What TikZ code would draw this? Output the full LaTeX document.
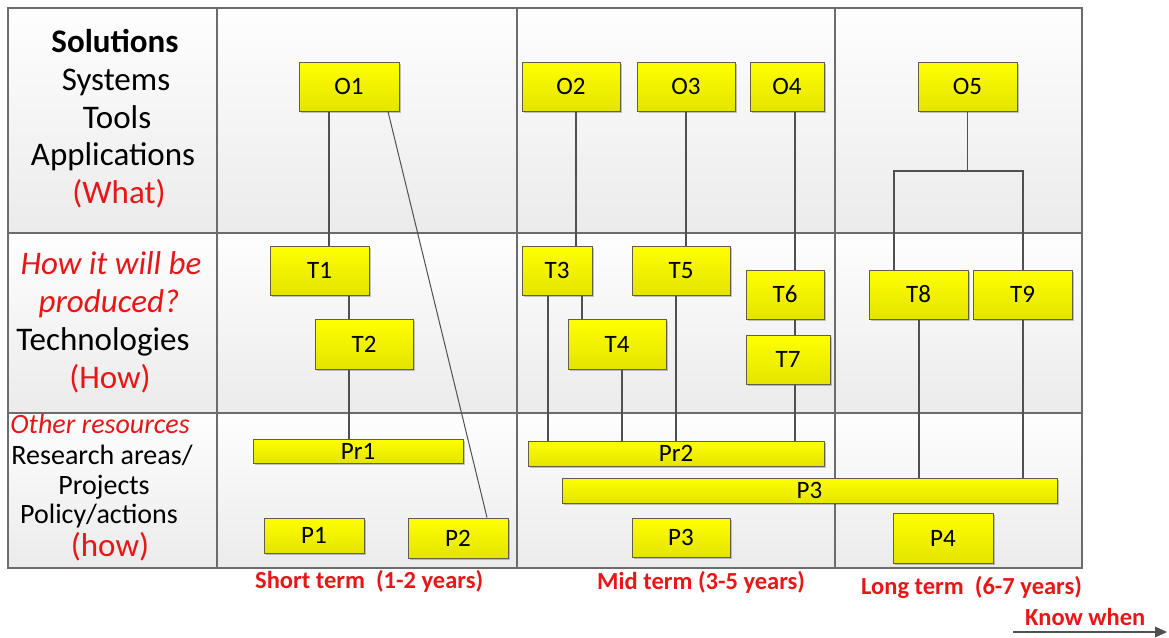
\documentclass[tikz,border=0pt]{standalone}
\usepackage{fontspec}
\setmainfont{Carlito}
\usetikzlibrary{shadows}

\definecolor{gridline}{RGB}{108,108,108}
\definecolor{boxedge}{RGB}{96,96,72}
\definecolor{boxtop}{RGB}{255,255,0}
\definecolor{boxbot}{RGB}{228,228,0}
\definecolor{celltop}{RGB}{254,254,254}
\definecolor{cellbot}{RGB}{235,235,235}
\definecolor{labelred}{RGB}{232,22,22}
\definecolor{linkcol}{RGB}{80,80,80}

% yellow box given by its corners: name, x1, y1, x2, y2, text
\newcommand{\ybx}[6]{%
  \node[ybox, minimum width={#4pt-#2pt}, minimum height={#5pt-#3pt}]
    (#1) at ({(#2+#4)/2},{(#3+#5)/2}) {#6};}
% shaded table cell: x1, y1, x2, y2
\newcommand{\tcell}[4]{%
  \shade[top color=celltop, bottom color=cellbot] (#1,#2) rectangle (#3,#4);}

\begin{document}
\begin{tikzpicture}[x=1pt,y=-1pt,
  ybox/.style={draw=boxedge, line width=1pt, top color=boxtop,
    bottom color=boxbot, inner sep=0pt,
    font=\fontsize{25}{27}\selectfont,
    drop shadow={shadow xshift=2pt, shadow yshift=-2pt,
      fill=black, opacity=0.22}},
  link/.style={draw=linkcol, line width=1.3pt},
  grid/.style={draw=gridline, line width=1.2pt},
  bigtxt/.style={anchor=base, inner sep=0pt, font=\fontsize{33}{36}\selectfont},
  midtxt/.style={anchor=base, inner sep=0pt, font=\fontsize{28}{30}\selectfont},
  termtxt/.style={anchor=base west, inner sep=0pt, text=labelred,
    font=\fontsize{24.5}{26}\selectfont\bfseries}]

\useasboundingbox (0,0) rectangle (1169,637);

% table cells
\foreach \xa/\xb in {8/217,217/517,517/835,835/1082}{
  \tcell{\xa}{8}{\xb}{233}
  \tcell{\xa}{233}{\xb}{413}
  \tcell{\xa}{413}{\xb}{568}
}
% table rules
\draw[grid] (8,8) rectangle (1082,568);
\foreach \xx in {217,517,835} \draw[grid] (\xx,8) -- (\xx,568);
\foreach \yy in {233,413} \draw[grid] (8,\yy) -- (1082,\yy);

% row headings
\node[bigtxt] (h1) at (115,52) {\bfseries Solutions};
\node[bigtxt] (h2) at (116,90) {Systems};
\node[bigtxt] (h3) at (117,128) {Tools};
\node[bigtxt] (h4) at (113,165) {Applications};
\node[bigtxt, text=labelred] (h5) at (119,203) {(What)};

\node[bigtxt, text=labelred] (h6) at (111,274) {\itshape How it will be};
\node[bigtxt, text=labelred] (h7) at (109,312) {\itshape produced?};
\node[bigtxt] (h8) at (103,350) {Technologies};
\node[bigtxt, text=labelred] (h9) at (110,388) {(How)};

\node[midtxt, text=labelred] (h10) at (100,433) {\itshape Other resources};
\node[midtxt] (h11) at (102,464) {Research areas/};
\node[midtxt] (h12) at (104,494) {Projects};
\node[midtxt] (h13) at (99,523) {Policy/actions};
\node[bigtxt, text=labelred] (h14) at (110,556) {(how)};

% boxes
\ybx{O1}{299}{62}{399}{111}{O1}
\ybx{O2}{522}{62}{620}{111}{O2}
\ybx{O3}{637}{62}{735}{111}{O3}
\ybx{O4}{750}{62}{824}{111}{O4}
\ybx{O5}{918}{62}{1017}{111}{O5}
\ybx{T1}{270}{246}{369}{295}{T1}
\ybx{T2}{315}{319}{413}{369}{T2}
\ybx{T3}{522}{246}{592}{295}{T3}
\ybx{T4}{568}{319}{666}{369}{T4}
\ybx{T5}{632}{246}{730}{295}{T5}
\ybx{T6}{746}{270}{824}{319}{T6}
\ybx{T7}{746}{335}{830}{384}{T7}
\ybx{T8}{869}{270}{968}{319}{T8}
\ybx{T9}{973}{270}{1072}{319}{T9}
\ybx{P3bar}{562}{478}{1057}{503}{P3}
\ybx{Pr1}{253}{439}{463}{463}{Pr1}
\ybx{Pr2}{528}{441}{824}{466}{Pr2}
\ybx{P1}{264}{518}{364}{553}{P1}
\ybx{P2}{408}{518}{508}{558}{P2}
\ybx{P3}{632}{518}{730}{557}{P3}
\ybx{P4}{893}{513}{993}{563}{P4}

% x positions of the vertical links
\coordinate (xa) at (329,0);
\coordinate (xb) at (349,0);
\coordinate (xc) at (576,0);
\coordinate (xd) at (686,0);
\coordinate (xe) at (795,0);
\coordinate (xf) at (582,0);
\coordinate (xg) at (548,0);
\coordinate (xh) at (622,0);
\coordinate (xi) at (676,0);
\coordinate (xj) at (894,0);
\coordinate (xk) at (1023,0);
\coordinate (xl) at (919,0);
\coordinate (forky) at (0,171);

% links
\draw[link] (O1.south -| xa) -- (T1.north -| xa);
\draw[link, line width=1pt] ([xshift=39pt]O1.south) -- ([xshift=29pt]P2.north);
\draw[link] (T1.south -| xb) -- (T2.north -| xb);
\draw[link] (T2.south -| xb) -- (Pr1.north -| xb);
\draw[link] (O2.south -| xc) -- (T3.north -| xc);
\draw[link] (O3.south -| xd) -- (T5.north -| xd);
\draw[link] (O4.south -| xe) -- (T6.north -| xe);
\draw[link] (T6.south -| xe) -- (T7.north -| xe);
\draw[link] (T7.south -| xe) -- (Pr2.north -| xe);
\draw[link] (T3.south -| xf) -- (T4.north -| xf);
\draw[link] (T3.south -| xg) -- (Pr2.north -| xg);
\draw[link] (T4.south -| xh) -- (Pr2.north -| xh);
\draw[link] (T5.south -| xi) -- (Pr2.north -| xi);
\draw[link] (O5.south) -- (O5.south |- forky);
\draw[link] (T8.north -| xj) -- (forky -| xj) -- (forky -| xk) -- (T9.north -| xk);
\draw[link] (T8.south -| xl) -- (P3bar.north -| xl);
\draw[link] (T9.south -| xk) -- (P3bar.north -| xk);

% time axis labels
\node[termtxt] (st) at (255,588) {Short term\ \ (1-2 years)};
\node[termtxt] (mt) at (597,589) {Mid term (3-5 years)};
\node[termtxt] (lt) at (861,594) {Long term\ \ (6-7 years)};
\node[termtxt, font=\fontsize{24.5}{26}\selectfont\bfseries] (kw) at (1025,625) {Know when};

% time arrow
\coordinate (axA) at (1013,632);
\coordinate (axB) at (1155,632);
\coordinate (axTip) at (1167,632);
\draw[draw=linkcol, line width=1.8pt] (axA) -- (axB);
\fill[linkcol] (axTip) -- ([yshift=5.5pt]axB) -- ([yshift=-5.5pt]axB) -- cycle;

\end{tikzpicture}
\end{document}
